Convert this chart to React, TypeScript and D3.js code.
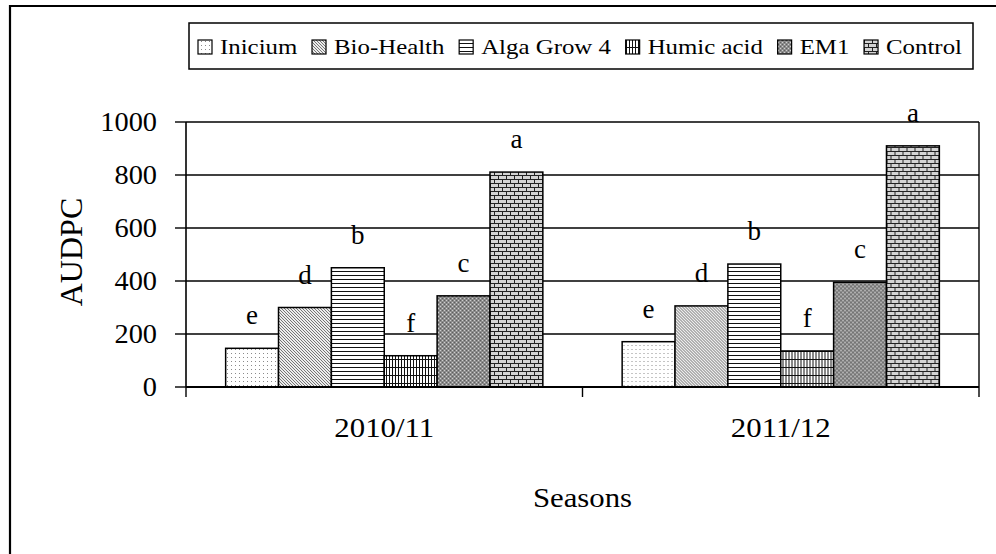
import React from 'react';
import * as d3 from 'd3';

const SEASONS = ['2010/11', '2011/12'];
const TREATMENTS = ['Inicium', 'Bio-Health', 'Alga Grow 4', 'Humic acid', 'EM1', 'Control'];
const AUDPC_2010_11 = [146, 300, 450, 118, 344, 811];
const AUDPC_2011_12 = [171, 306, 464, 136, 395, 910];
const LETTERS_2010_11 = ['e', 'd', 'b', 'f', 'c', 'a'];
const LETTERS_2011_12 = ['e', 'd', 'b', 'f', 'c', 'a'];
const Y_TICKS = [0, 200, 400, 600, 800, 1000];

const W = 996;
const H = 554;
const PLOT = { left: 186, right: 979, top: 122, bottom: 387 };
const FONT = "'Liberation Serif', 'Times New Roman', Times, serif";

const LEGEND = { left: 189, top: 23, right: 973, bottom: 69 };
const LEGEND_FONT = 22;
const LEGEND_SX = 1.13;

let ctx: CanvasRenderingContext2D | null = null;
function textWidth(s: string, size: number) {
  if (!ctx) ctx = document.createElement('canvas').getContext('2d');
  if (!ctx) return s.length * size * 0.5;
  ctx.font = `${size}px 'Liberation Serif', serif`;
  return ctx.measureText(s).width;
}

// fill patterns, one per treatment (same order)
function Patterns() {
  return (
    <defs>
      <pattern id="pat-0" width="4" height="4" patternUnits="userSpaceOnUse">
        <rect width="4" height="4" fill="#fff" />
        <rect x="1" y="1" width="1" height="1" fill="#8a8a8a" />
      </pattern>
      <pattern id="pat-1" width="3" height="3" patternUnits="userSpaceOnUse">
        <rect width="3" height="3" fill="#ececec" />
        <path d="M0,0 L3,3 M-1,2 L1,4 M2,-1 L4,1" stroke="#4e4e4e" strokeWidth="0.75" />
      </pattern>
      <pattern id="pat-2" width="4" height="4" patternUnits="userSpaceOnUse">
        <rect width="4" height="4" fill="#fff" />
        <path d="M0,3.5 H4" stroke="#111" strokeWidth="1" />
      </pattern>
      <pattern id="pat-3" width="3" height="8" patternUnits="userSpaceOnUse">
        <rect width="3" height="8" fill="#fff" />
        <path d="M2.5,0 V8 M0,7.5 H3" stroke="#111" strokeWidth="1" />
      </pattern>
      <pattern id="pat-4" width="4" height="4" patternUnits="userSpaceOnUse">
        <rect width="4" height="4" fill="#8c8c8c" />
        <rect x="0" y="0" width="1" height="1" fill="#cfcfcf" />
        <rect x="2" y="2" width="1" height="1" fill="#cfcfcf" />
        <rect x="2" y="0" width="1" height="1" fill="#5e5e5e" />
        <rect x="0" y="2" width="1" height="1" fill="#5e5e5e" />
      </pattern>
      <pattern id="pat-5" width="8" height="8" patternUnits="userSpaceOnUse">
        <rect width="8" height="8" fill="#d4d4d4" />
        <path d="M0,3.5 H8 M0,7.5 H8 M0.5,0 V3.5 M4.5,4 V7.5" stroke="#222" strokeWidth="1" />
      </pattern>
    </defs>
  );
}

function SText({ x, y, sx = 1, size, anchor = 'middle', children }: any) {
  return (
    <text
      transform={`translate(${x},${y}) scale(${sx},1)`}
      textAnchor={anchor}
      dy="0.35em"
      style={{ fontFamily: FONT, fontSize: size }}
      fill="#000"
    >
      {children}
    </text>
  );
}

export default function App() {
  const x0 = d3.scaleBand<string>().domain(SEASONS).range([PLOT.left, PLOT.right]).padding(0);
  const bw = x0.bandwidth();
  const x1 = d3.scaleBand<string>().domain(TREATMENTS).range([bw * 0.1, bw * 0.9]).padding(0);
  const y = d3.scaleLinear().domain([0, 1000]).range([PLOT.bottom, PLOT.top]);

  const series = [AUDPC_2010_11, AUDPC_2011_12];
  const letters = [LETTERS_2010_11, LETTERS_2011_12];

  // legend layout: swatch, label, even gaps to fill the box
  const sw = 14;
  const swGap = 8;
  const widths = TREATMENTS.map((t) => textWidth(t, LEGEND_FONT) * LEGEND_SX);
  const inner = LEGEND.right - LEGEND.left - 20;
  const used = d3.sum(widths) + TREATMENTS.length * (sw + swGap);
  const gap = (inner - used) / (TREATMENTS.length - 1);
  let cursor = LEGEND.left + 9;
  const legendItems = TREATMENTS.map((t, i) => {
    const item = { t, i, x: cursor };
    cursor += sw + swGap + widths[i] + gap;
    return item;
  });
  const legendMid = (LEGEND.top + LEGEND.bottom) / 2;

  const boundaries = [...SEASONS.map((s) => x0(s) as number), PLOT.right];

  return (
    <svg
      width={W}
      height={H}
      viewBox={`0 0 ${W} ${H}`}
      style={{ position: 'absolute', left: 0, top: 0, background: '#fff', fontFamily: FONT }}
    >
      <Patterns />
      <rect width={W} height={H} fill="#fff" />

      {/* outer chart frame (runs off the right and bottom edges) */}
      <path d={`M10,${H + 5} V6 H${W + 5}`} fill="none" stroke="#000" strokeWidth={2.2} />

      {/* legend */}
      <rect
        x={LEGEND.left}
        y={LEGEND.top}
        width={LEGEND.right - LEGEND.left}
        height={LEGEND.bottom - LEGEND.top}
        fill="#fff"
        stroke="#000"
        strokeWidth={1.5}
      />
      {legendItems.map(({ t, i, x }) => (
        <g key={t}>
          <rect
            x={x}
            y={legendMid - sw / 2 + 1}
            width={sw}
            height={sw}
            fill={`url(#pat-${i})`}
            stroke="#000"
            strokeWidth={1.2}
          />
          <SText x={x + sw + swGap} y={legendMid} sx={LEGEND_SX} size={LEGEND_FONT} anchor="start">
            {t}
          </SText>
        </g>
      ))}

      {/* gridlines */}
      {Y_TICKS.filter((v) => v > 0).map((v) => (
        <line key={v} x1={PLOT.left} x2={PLOT.right} y1={y(v)} y2={y(v)} stroke="#000" strokeWidth={1.4} />
      ))}
      <line x1={PLOT.right} x2={PLOT.right} y1={PLOT.top} y2={PLOT.bottom} stroke="#000" strokeWidth={1.4} />

      {/* bars */}
      {SEASONS.map((s, si) => (
        <g key={s} transform={`translate(${x0(s)},0)`}>
          {TREATMENTS.map((t, ti) => {
            const v = series[si][ti];
            const bx = x1(t) as number;
            return (
              <g key={t}>
                <rect
                  x={bx}
                  y={y(v)}
                  width={x1.bandwidth()}
                  height={y(0) - y(v)}
                  fill={`url(#pat-${ti})`}
                  stroke="#000"
                  strokeWidth={1.5}
                />
                <text
                  x={bx + x1.bandwidth() / 2}
                  y={y(v) - 24}
                  textAnchor="middle"
                  style={{ fontFamily: FONT, fontSize: 27 }}
                >
                  {letters[si][ti]}
                </text>
              </g>
            );
          })}
        </g>
      ))}

      {/* y axis */}
      <line x1={PLOT.left} x2={PLOT.left} y1={PLOT.top} y2={PLOT.bottom} stroke="#000" strokeWidth={1.6} />
      {Y_TICKS.map((v) => (
        <g key={v}>
          <line x1={PLOT.left - 11} x2={PLOT.left} y1={y(v)} y2={y(v)} stroke="#000" strokeWidth={1.4} />
          <SText x={PLOT.left - 29} y={y(v)} sx={1.05} size={27} anchor="end">
            {v}
          </SText>
        </g>
      ))}
      <text
        transform={`translate(71,252) rotate(-90)`}
        textAnchor="middle"
        dy="0.35em"
        style={{ fontFamily: FONT, fontSize: 32 }}
      >
        AUDPC
      </text>

      {/* x axis */}
      <line x1={PLOT.left} x2={PLOT.right} y1={PLOT.bottom} y2={PLOT.bottom} stroke="#000" strokeWidth={2} />
      {boundaries.map((bx) => (
        <line key={bx} x1={bx} x2={bx} y1={PLOT.bottom} y2={PLOT.bottom + 10} stroke="#000" strokeWidth={1.4} />
      ))}
      {SEASONS.map((s) => (
        <SText key={s} x={(x0(s) as number) + bw / 2} y={427} sx={1.1} size={28}>
          {s}
        </SText>
      ))}
      <SText x={(PLOT.left + PLOT.right) / 2} y={497} sx={1.1} size={28}>
        Seasons
      </SText>
    </svg>
  );
}
